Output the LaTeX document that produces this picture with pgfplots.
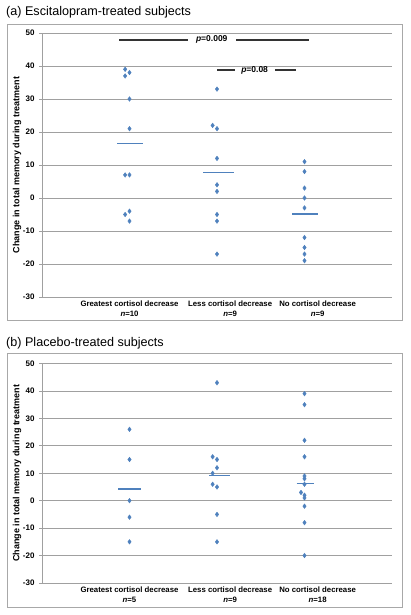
\documentclass[border=0pt]{standalone}
\usepackage{fontspec}
\setmainfont{Liberation Sans}
\usepackage{pgfplots}
\pgfplotsset{compat=1.18}
\definecolor{mk}{HTML}{4F81BD}
\definecolor{gridc}{HTML}{A0A0A0}
\definecolor{framec}{HTML}{A8A8A8}
\pgfplotsset{
  panel/.style={
    scale only axis, width=350pt,
    xmin=0, xmax=4, ymin=-30, ymax=50,
    ytick={-30,-20,...,50},
    xtick={1,2.15,3.15},
    ymajorgrids, grid style={gridc, line width=0.8pt},
    axis lines*=left, axis line style={gridc, line width=0.8pt},
    xtick style={draw=none}, ytick style={gridc, line width=0.8pt},
    tick align=outside, major tick length=3pt,
    /pgf/number format/assume math mode=true,
    yticklabel style={font=\bfseries\fontsize{8}{9}\selectfont, xshift=-1pt},
    xticklabel style={align=center, font=\bfseries\fontsize{7.8}{9.5}\selectfont, inner sep=1pt},
    ylabel={Change in total memory during treatment},
    every axis y label/.style={at={(rel axis cs:0,0.5)}, rotate=90, anchor=center, yshift=25pt, font=\bfseries\fontsize{9}{10}\selectfont},
    clip=false,
  },
  pts/.style={only marks, mark=diamond*, mark size=2.3pt, mark options={fill=mk, draw=mk}, color=mk},
  meanl/.style={no marks, color=mk, line width=1.8pt},
  pline/.style={no marks, color=black!80, line width=1.8pt},
}
\begin{document}
\begin{tikzpicture}[x=1pt,y=1pt]
\useasboundingbox (0,0) rectangle (410,615);
% frames
\draw[framec, line width=0.8pt] (7,295) rectangle (402,591);
\draw[framec, line width=0.8pt] (7,8) rectangle (402,262);
% titles
\node[anchor=west, inner sep=0pt, font=\fontsize{12.6}{14}\selectfont] at (6,603) {(a) Escitalopram-treated subjects};
\node[anchor=west, inner sep=0pt, font=\fontsize{12.6}{14}\selectfont] at (6,272) {(b) Placebo-treated subjects};

\begin{axis}[panel, at={(42pt,318pt)}, anchor=south west, height=264pt,
  xticklabels={{Greatest cortisol decrease\\\textit{n}=10},{Less cortisol decrease\\\textit{n}=9},{No cortisol decrease\\\textit{n}=9}}]
\addplot[pts] coordinates {(0.95,39) (1.0,38) (0.95,37) (1.0,30) (1.0,21) (0.95,7) (1.0,7) (1.0,-4) (0.95,-5) (1.0,-7)};
\addplot[pts] coordinates {(2.0,33) (1.95,22) (2.0,21) (2.0,12) (2.0,4) (2.0,2) (2.0,-5) (2.0,-7) (2.0,-17)};
\addplot[pts] coordinates {(3.0,11) (3.0,8) (3.0,3) (3.0,0) (3.0,-3) (3.0,-12) (3.0,-15) (3.0,-17) (3.0,-19)};
\addplot[meanl] coordinates {(0.86,16.5) (1.15,16.5)};
\addplot[meanl] coordinates {(1.84,7.7) (2.19,7.7)};
\addplot[meanl] coordinates {(2.86,-4.9) (3.15,-4.9)};
\addplot[pline] coordinates {(0.88,48) (1.67,48)};
\addplot[pline] coordinates {(2.22,48) (3.05,48)};
\addplot[pline] coordinates {(2.0,38.8) (2.2,38.8)};
\addplot[pline] coordinates {(2.66,38.8) (2.9,38.8)};
\node[font=\bfseries\fontsize{8.5}{9}\selectfont] at (axis cs:1.94,48) {\textit{p}=0.009};
\node[font=\bfseries\fontsize{8.5}{9}\selectfont] at (axis cs:2.43,38.8) {\textit{p}=0.08};
\end{axis}

\begin{axis}[panel, at={(42pt,32pt)}, anchor=south west, height=219.5pt,
  xticklabels={{Greatest cortisol decrease\\\textit{n}=5},{Less cortisol decrease\\\textit{n}=9},{No cortisol decrease\\\textit{n}=18}}]
\addplot[pts] coordinates {(1.0,26) (1.0,15) (1.0,0) (1.0,-6) (1.0,-15)};
\addplot[pts] coordinates {(2.0,43) (1.95,16) (2.0,15) (2.0,12) (1.95,10) (1.95,6) (2.0,5) (2.0,-5) (2.0,-15)};
\addplot[pts] coordinates {(3.0,39) (3.0,35) (3.0,22) (3.0,16) (3.0,9) (3.0,8) (3.0,6) (2.96,3) (3.0,2) (3.0,1) (3.0,-2) (3.0,-8) (3.0,-20)};
\addplot[meanl] coordinates {(0.87,4.3) (1.13,4.3)};
\addplot[meanl] coordinates {(1.91,9.2) (2.15,9.2)};
\addplot[meanl] coordinates {(2.91,6.3) (3.11,6.3)};
\end{axis}
\end{tikzpicture}
\end{document}
